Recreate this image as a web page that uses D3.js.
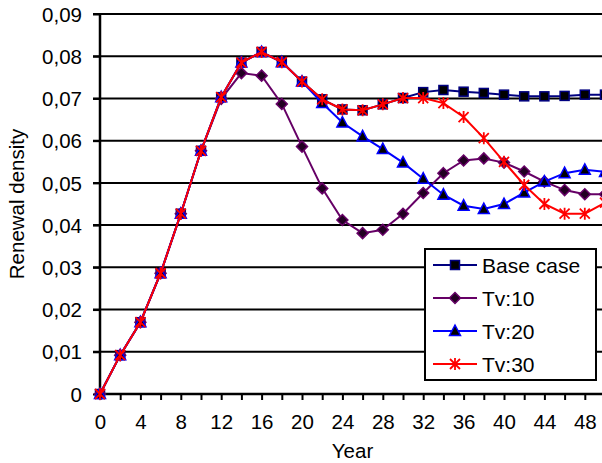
<!DOCTYPE html>
<html lang="en">
<head>
    <meta charset="UTF-8">
    <script src="https://d3js.org/d3.v7.min.js"></script>
    <title>Renewal density</title>
    <style>
        body { margin: 0; background: #fff; }
        text { font-family: "Liberation Sans", Arial, sans-serif; fill: #000; }
    </style>
</head>
<body>
<div id="vis"></div>
<script>
    // data, one point every 2 years
    var years = [0, 2, 4, 6, 8, 10, 12, 14, 16, 18, 20, 22, 24, 26, 28, 30, 32, 34, 36, 38, 40, 42, 44, 46, 48, 50];
    var baseCase = [0, 0.0092, 0.0170, 0.0286, 0.0427, 0.0576, 0.0703, 0.0785, 0.0810, 0.0786, 0.0740, 0.0698,
        0.0674, 0.0672, 0.0686, 0.0701, 0.0715, 0.0720, 0.0716, 0.0713, 0.0709, 0.0705, 0.0705, 0.0706, 0.0709, 0.0709];
    var tv10 = [0, 0.0092, 0.0170, 0.0286, 0.0427, 0.0576, 0.0699, 0.0760, 0.0754, 0.0687, 0.0586, 0.0487,
        0.0412, 0.0381, 0.0389, 0.0427, 0.0476, 0.0523, 0.0553, 0.0558, 0.0548, 0.0527, 0.0503, 0.0483, 0.0473, 0.0473];
    var tv20 = [0, 0.0092, 0.0170, 0.0286, 0.0427, 0.0576, 0.0703, 0.0785, 0.0810, 0.0786, 0.0740, 0.0689,
        0.0643, 0.0610, 0.0580, 0.0548, 0.0510, 0.0472, 0.0446, 0.0438, 0.0450, 0.0477, 0.0503, 0.0523, 0.0531, 0.0526];
    var tv30 = [0, 0.0092, 0.0170, 0.0286, 0.0427, 0.0576, 0.0703, 0.0785, 0.0810, 0.0786, 0.0740, 0.0698,
        0.0674, 0.0672, 0.0686, 0.0701, 0.0701, 0.0689, 0.0656, 0.0606, 0.0550, 0.0495, 0.0450, 0.0427, 0.0427, 0.0453];
    var seriesNames = ["Base case", "Tv:10", "Tv:20", "Tv:30"];
    var yTicks = [0, 0.01, 0.02, 0.03, 0.04, 0.05, 0.06, 0.07, 0.08, 0.09];
    var xLabels = [0, 4, 8, 12, 16, 20, 24, 28, 32, 36, 40, 44, 48];

    var width = 602, height = 463,
        plotLeft = 100, plotRight = 605, plotTop = 14, plotBottom = 394,
        fontSize = "20.5px";

    var series = [
        {name: seriesNames[0], values: baseCase, color: "#000080", fill: "#000000", marker: "square"},
        {name: seriesNames[1], values: tv10, color: "#660066", fill: "#220022", marker: "diamond"},
        {name: seriesNames[2], values: tv20, color: "#0000ff", fill: "#000000", marker: "triangle"},
        {name: seriesNames[3], values: tv30, color: "#ff0000", fill: "none", marker: "star"}
    ];

    var svg = d3.select("#vis").append("svg").attr("width", width).attr("height", height);

    var x = d3.scaleLinear().domain([0, 50]).range([plotLeft, plotRight]);
    var y = d3.scaleLinear().domain([0, 0.09]).range([plotBottom, plotTop]);

    // gridlines
    svg.append("g").selectAll("line").data(yTicks.slice(1)).enter().append("line")
        .attr("x1", plotLeft - 7).attr("x2", plotRight)
        .attr("y1", function(d){ return y(d); }).attr("y2", function(d){ return y(d); })
        .style("stroke", "#000").style("stroke-width", 2);

    // y axis
    var yAxis = d3.axisLeft(y).tickValues(yTicks).tickSize(7).tickPadding(11)
        .tickFormat(function(d){ return d === 0 ? "0" : d3.format(".2f")(d).replace(".", ","); });
    var gy = svg.append("g").attr("transform", "translate(" + plotLeft + ",0)").call(yAxis);
    gy.select(".domain").remove();
    gy.selectAll(".tick line").style("stroke", "#000").style("stroke-width", 2);
    gy.selectAll("text").style("font-size", fontSize).attr("dy", "0.35em");

    // x axis: ticks every 2 years, labels every 4
    var xAxis = d3.axisBottom(x).tickValues(years).tickSize(6).tickPadding(14)
        .tickFormat(function(d){ return xLabels.indexOf(d) >= 0 ? d : ""; });
    var gx = svg.append("g").attr("transform", "translate(0," + plotBottom + ")").call(xAxis);
    gx.select(".domain").remove();
    gx.selectAll(".tick line").style("stroke", "#000").style("stroke-width", 2);
    gx.selectAll("text").style("font-size", fontSize);

    // axis lines
    svg.append("line").attr("x1", plotLeft).attr("x2", plotLeft).attr("y1", plotTop).attr("y2", plotBottom + 1)
        .style("stroke", "#000").style("stroke-width", 2.5);
    svg.append("line").attr("x1", plotLeft - 1).attr("x2", plotRight).attr("y1", plotBottom).attr("y2", plotBottom)
        .style("stroke", "#000").style("stroke-width", 2.5);

    // axis titles
    svg.append("text").attr("x", (plotLeft + plotRight) / 2).attr("y", 458)
        .attr("text-anchor", "middle").style("font-size", fontSize).text("Year");
    svg.append("text").attr("transform", "translate(24," + (plotTop + plotBottom) / 2 + ") rotate(-90)")
        .attr("text-anchor", "middle").style("font-size", fontSize).text("Renewal density");

    function drawMarker(g, s) {
        if (s.marker === "square") {
            g.append("rect").attr("x", -4.5).attr("y", -4.5).attr("width", 9).attr("height", 9)
                .style("fill", s.fill).style("stroke", s.color).style("stroke-width", 1.5);
        } else if (s.marker === "diamond") {
            g.append("path").attr("d", "M0,-5.5L5.5,0L0,5.5L-5.5,0Z")
                .style("fill", s.fill).style("stroke", s.color).style("stroke-width", 1.5);
        } else if (s.marker === "triangle") {
            g.append("path").attr("d", "M0,-6L5.5,4.5L-5.5,4.5Z")
                .style("fill", s.fill).style("stroke", s.color).style("stroke-width", 1.5);
        } else {
            g.append("path").attr("d", "M-5,-5L5,5M-5,5L5,-5M0,-6L0,6")
                .style("fill", "none").style("stroke", s.color).style("stroke-width", 1.8);
        }
    }

    var line = d3.line()
        .x(function(d, i){ return x(years[i]); })
        .y(function(d){ return y(d); });

    series.forEach(function(s) {
        var g = svg.append("g");
        g.append("path").attr("d", line(s.values))
            .style("fill", "none").style("stroke", s.color).style("stroke-width", 2);
        g.selectAll("g").data(s.values).enter().append("g")
            .attr("transform", function(d, i){ return "translate(" + x(years[i]) + "," + y(d) + ")"; })
            .each(function(){ drawMarker(d3.select(this), s); });
    });

    // legend
    var lg = svg.append("g").attr("transform", "translate(425,249)");
    lg.append("rect").attr("width", 171).attr("height", 131)
        .style("fill", "#fff").style("stroke", "#000").style("stroke-width", 2);
    series.forEach(function(s, i) {
        var cy = 16 + i * 33;
        lg.append("line").attr("x1", 8).attr("x2", 52).attr("y1", cy).attr("y2", cy)
            .style("stroke", s.color).style("stroke-width", 2);
        drawMarker(lg.append("g").attr("transform", "translate(30," + cy + ")"), s);
        lg.append("text").attr("x", 57).attr("y", cy).attr("dy", "0.36em")
            .style("font-size", "21px").text(s.name);
    });
</script>
</body>
</html>
